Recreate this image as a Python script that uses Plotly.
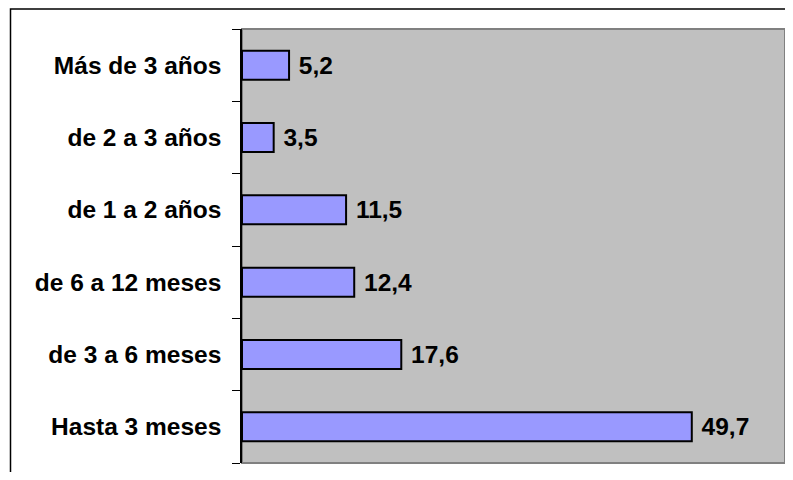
import plotly.graph_objects as go

categories = ["Hasta 3 meses", "de 3 a 6 meses", "de 6 a 12 meses",
              "de 1 a 2 años", "de 2 a 3 años", "Más de 3 años"]
values = [49.7, 17.6, 12.4, 11.5, 3.5, 5.2]
labels = [" " + f"{v:.1f}".replace(".", ",") for v in values]

# page body has an 8px margin, figure starts at (8, 8)
OFF = 8
W, H = 777, 464
L, R, T, B = 234, 0, 21, 9
pw, ph = W - L - R, H - T - B

FONT = dict(family="Arial, Liberation Sans, sans-serif", size=24.5, color="black", weight="bold")

fig = go.Figure(go.Bar(
    x=values, y=categories, orientation="h",
    marker=dict(color="#9999FF", line=dict(color="black", width=2)),
    text=labels, textposition="outside", textfont=FONT, cliponaxis=False,
    width=0.4,
))

def px_x(p):
    return (p - OFF - L) / pw

def px_y(p):
    return (H - B - (p - OFF)) / ph

fig.update_layout(
    width=W, height=H,
    margin=dict(l=L, r=R, t=T, b=B, pad=0),
    paper_bgcolor="white", plot_bgcolor="#C0C0C0",
    showlegend=False,
    xaxis=dict(range=[0, 60], showticklabels=False, showgrid=False, zeroline=False,
               showline=False, ticks=""),
    yaxis=dict(type="category", showgrid=False, zeroline=False,
               showline=True, linecolor="black", linewidth=1.5,
               ticks="outside", ticklen=8, tickcolor="black", tickwidth=1,
               tickson="boundaries", tickfont=FONT, ticklabelstandoff=14),
    shapes=[
        dict(type="rect", xref="paper", yref="paper", x0=0, x1=1, y0=0, y1=1,
             line=dict(color="#808080", width=2), layer="below"),
        dict(type="rect", xref="paper", yref="paper",
             x0=px_x(10.5), x1=px_x(820), y0=px_y(520), y1=px_y(9),
             line=dict(color="black", width=1.5), layer="above"),
    ],
)

fig.write_html("out.html")
